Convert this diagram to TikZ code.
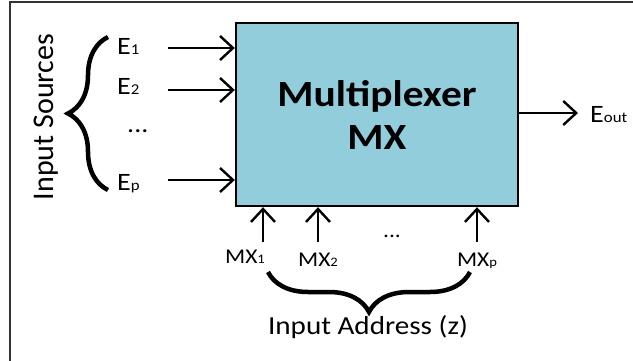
\documentclass[tikz,border=0pt]{standalone}
\usepackage{fontspec}
\setmainfont{Carlito}
\usetikzlibrary{arrows.meta,decorations.pathreplacing,positioning}
\definecolor{mxblue}{RGB}{146,205,220}
\newcommand{\lowidx}[1]{{\fontsize{15}{15}\selectfont #1}}
\newcommand{\lowsel}[1]{{\fontsize{13}{13}\selectfont #1}}
\tikzset{
  wide/.style={xscale=1.12, transform shape},
  sig/.style={wide, inner sep=0pt, anchor=base west, font=\fontsize{25}{25}\selectfont},
  sel/.style={wide, inner sep=0pt, anchor=base, font=\fontsize{21}{21}\selectfont},
  arr/.style={-{Straight Barb[length=13pt,width=24pt,line width=2.4pt]}, line width=2.4pt},
  brc/.style={decorate, decoration={brace, amplitude=40pt}, line width=4.5pt}
}
\begin{document}
\begin{tikzpicture}[x=1pt,y=-1pt]
  \useasboundingbox (0,0) rectangle (633,361);
  \draw[line width=2pt, black!80] (10,361) -- (10,2) -- (633,2);
  % multiplexer block
  \node[draw, line width=2.4pt, fill=mxblue, minimum width=282pt, minimum height=183pt]
    (mx) at (377,114.5) {};
  \node[wide, align=center, font=\bfseries\fontsize{37}{43}\selectfont] (title) at (mx.center) {Multiplexer\\MX};
  % inputs
  \node[sig] (e1) at (117,55) {E\lowidx{1}};
  \node[sig] (e2) at (117,95) {E\lowidx{2}};
  \node[sig] (edots) at (127,133) {...};
  \node[sig] (ep) at (117,190) {E\lowidx{p}};
  \coordinate (s1) at (168,48);
  \coordinate (s2) at (168,90);
  \coordinate (sp) at (168,180);
  \draw[arr] (s1) -- (s1 -| mx.west);
  \draw[arr] (s2) -- (s2 -| mx.west);
  \draw[arr] (sp) -- (sp -| mx.west);
  \draw[brc] (108,190) -- (108,37);
  \node[rotate=90, font=\fontsize{30}{30}\selectfont] (src) at (46,117) {Input Sources};
  % output
  \coordinate (o) at (578,113);
  \draw[arr] (mx.east |- o) -- (o);
  \node[sig] (eout) at (590,123) {E\lowidx{out}};
  % selection lines
  \coordinate (a1) at (263,242);
  \coordinate (a2) at (318,242);
  \coordinate (ap) at (477,242);
  \draw[arr] (a1) -- (a1 |- mx.south);
  \draw[arr] (a2) -- (a2 |- mx.south);
  \draw[arr] (ap) -- (ap |- mx.south);
  \node[sel] (mx1) at (245,263) {MX\lowsel{1}};
  \node[sel] (mx2) at (318,266) {MX\lowsel{2}};
  \node[sel] (mxdots) at (392,237) {...};
  \node[sel] (mxp) at (477,266) {MX\lowsel{p}};
  \draw[brc] (470,272) -- (268,272);
  \node[wide, font=\fontsize{26}{26}\selectfont] (addr) at (368,327) {Input Address (z)};
\end{tikzpicture}
\end{document}
